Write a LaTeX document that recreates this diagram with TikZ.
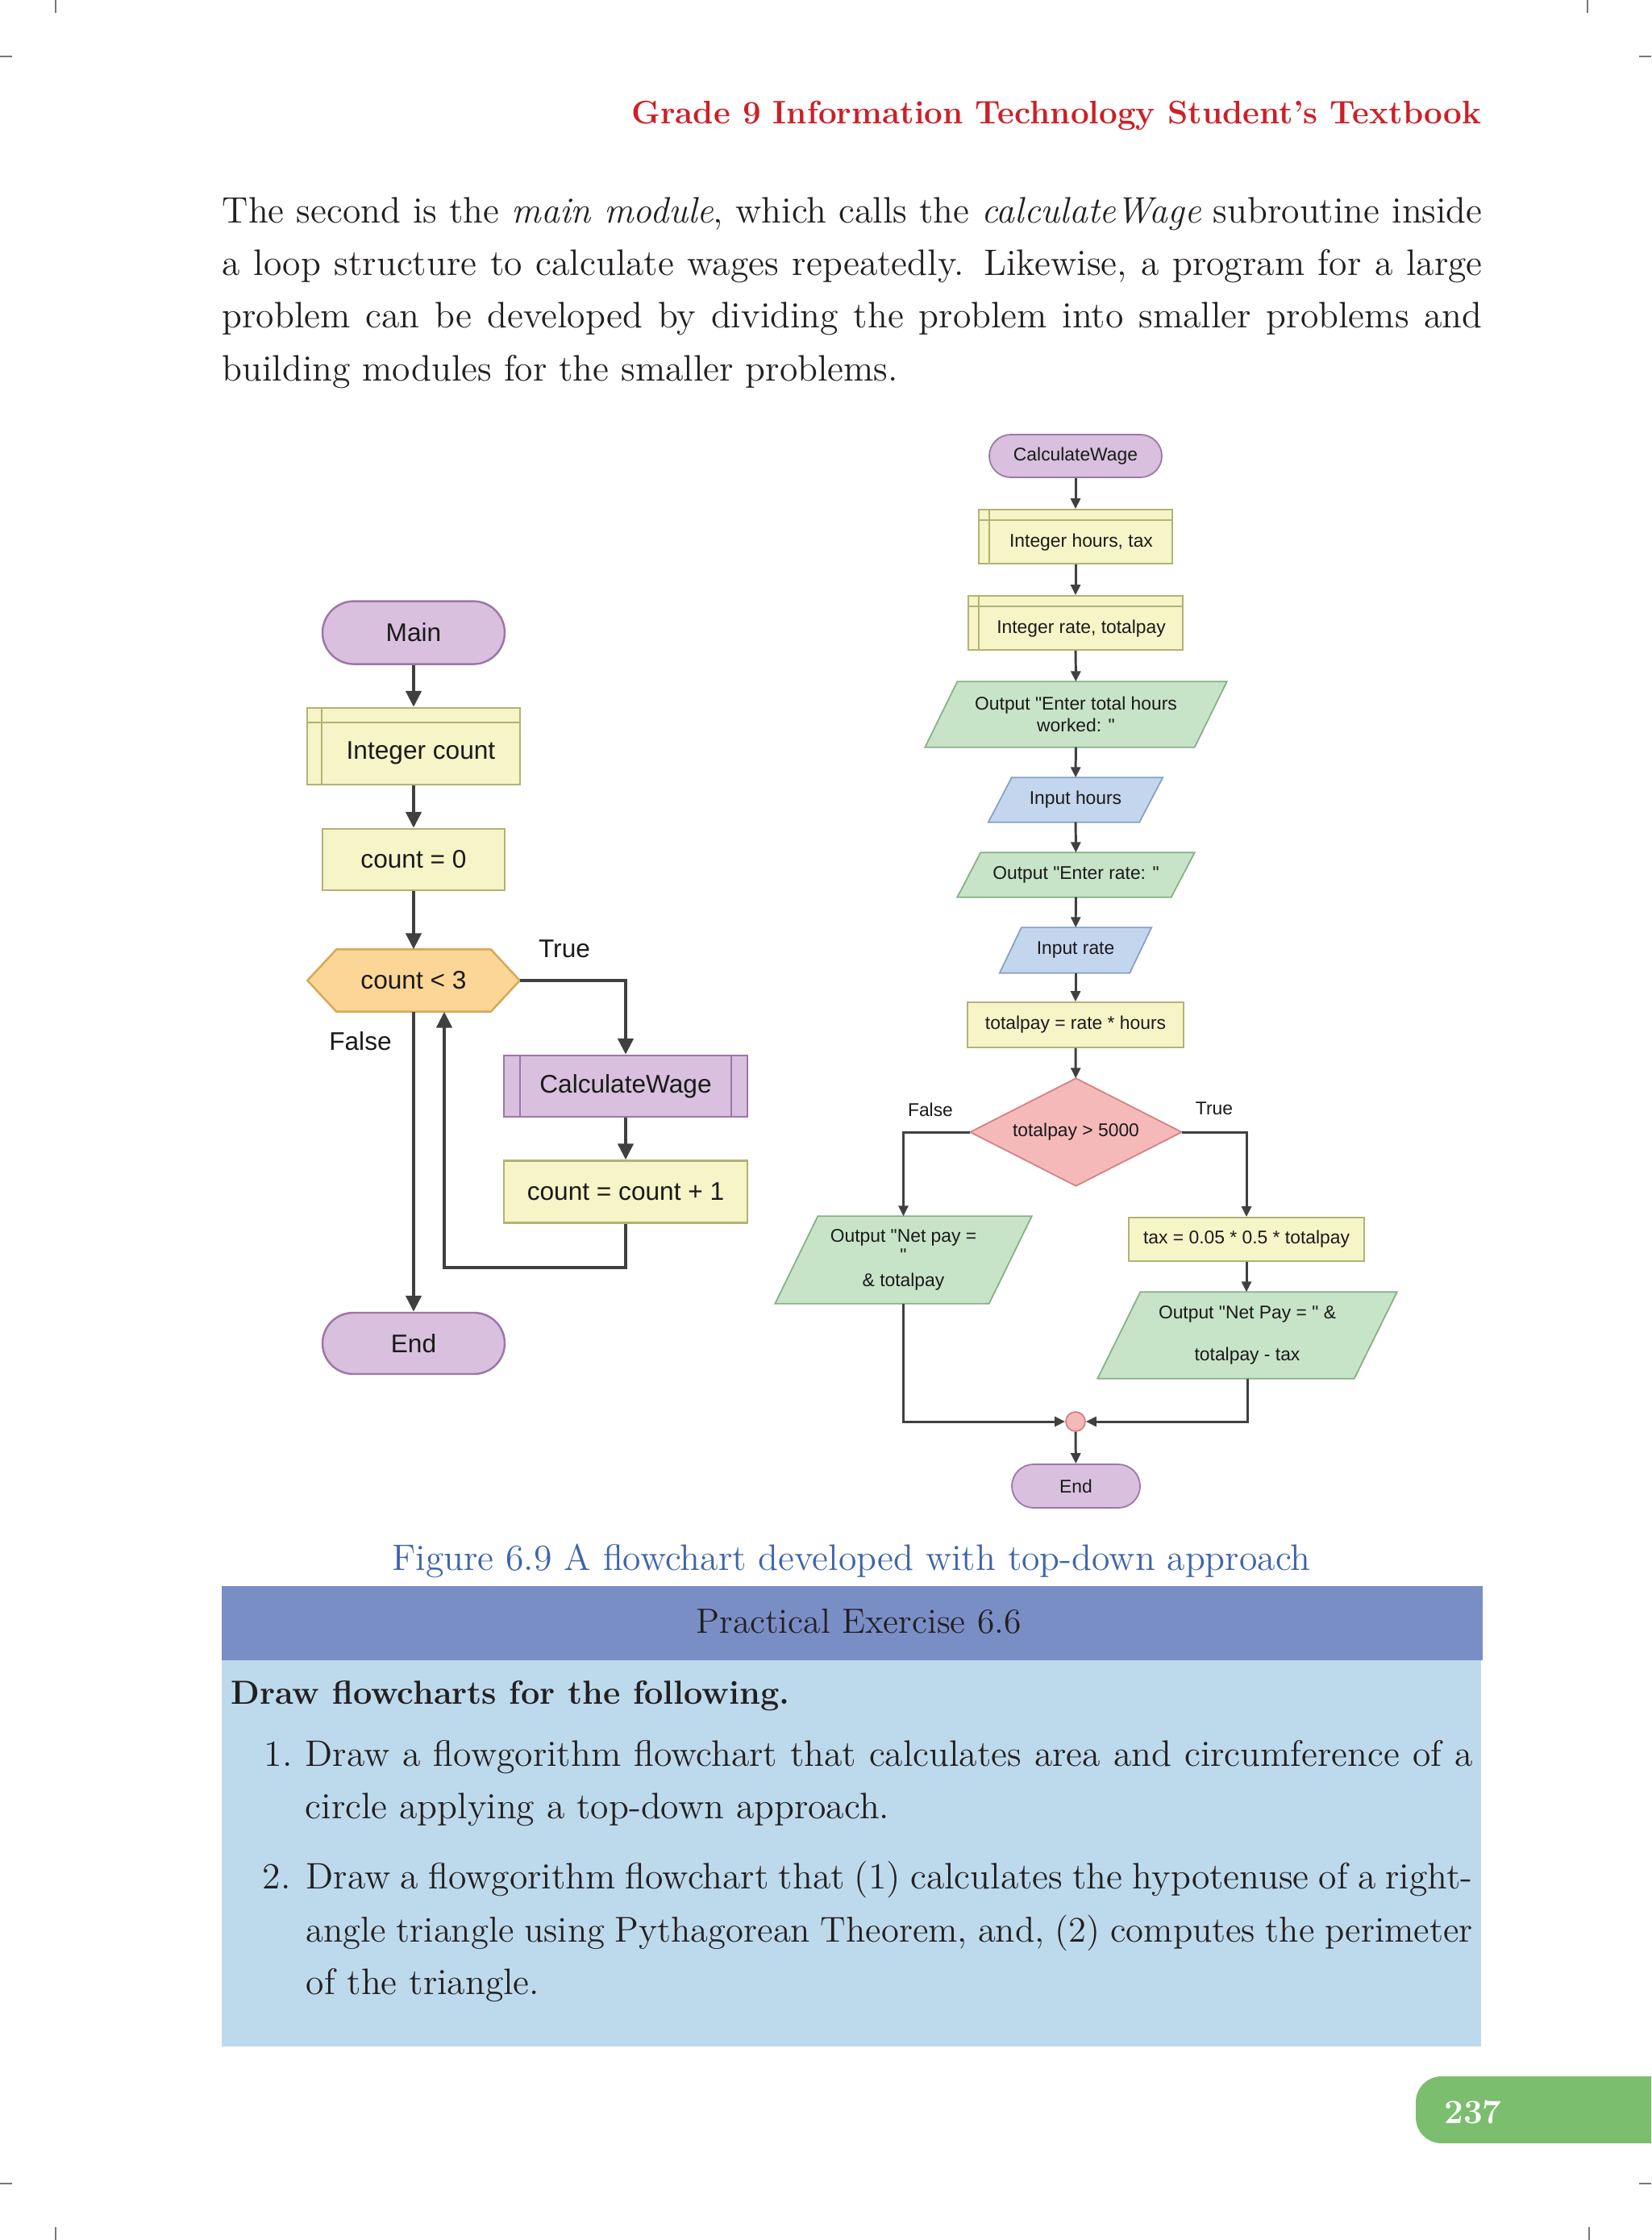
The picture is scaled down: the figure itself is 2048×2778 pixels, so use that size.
\documentclass[tikz,border=0pt]{standalone}
\usepackage{fontspec}
\newfontfamily\fc{Liberation Sans}
\usetikzlibrary{arrows.meta,calc}
\pgfdeclarelayer{bg}
\pgfsetlayers{bg,main}
\definecolor{termF}{RGB}{216,192,222}
\definecolor{termD}{RGB}{158,118,168}
\definecolor{procF}{RGB}{245,245,200}
\definecolor{procD}{RGB}{178,178,118}
\definecolor{hexF}{RGB}{251,214,150}
\definecolor{hexD}{RGB}{214,168,88}
\definecolor{outF}{RGB}{200,228,200}
\definecolor{outD}{RGB}{135,175,135}
\definecolor{inF}{RGB}{196,214,238}
\definecolor{inD}{RGB}{135,160,200}
\definecolor{decF}{RGB}{245,185,185}
\definecolor{decD}{RGB}{210,130,130}
\definecolor{lineC}{RGB}{64,64,64}
\definecolor{txt}{RGB}{26,26,26}
\definecolor{hdrRed}{RGB}{204,32,40}
\definecolor{capBlue}{RGB}{62,100,172}
\definecolor{exBar}{RGB}{122,142,198}
\definecolor{exBox}{RGB}{189,218,236}
\definecolor{badge}{RGB}{122,190,110}
\definecolor{ink}{RGB}{35,31,32}
\definecolor{cropC}{RGB}{120,120,120}
\newcommand{\jl}[2]{\makebox[#1][s]{#2}}
\tikzset{
  tL/.style={font=\fc\fontsize{9}{11}\selectfont, text=txt, inner sep=0pt},
  tR/.style={font=\fc\fontsize{6.5}{7.8}\selectfont, text=txt, inner sep=0pt},
  termL/.style={tL, draw=termD, fill=termF, line width=0.7pt, rounded corners=3.8mm, minimum width=22.6mm, minimum height=7.7mm},
  procL/.style={tL, draw=procD, fill=procF, line width=0.7pt},
  subL/.style={tL, draw=termD, fill=termF, line width=0.7pt},
  termR/.style={tR, draw=termD, fill=termF, line width=0.5pt, rounded corners=2.65mm},
  procR/.style={tR, draw=procD, fill=procF, line width=0.5pt},
  innerP/.style={draw=procD, line width=0.6pt},
  innerS/.style={draw=termD, line width=0.6pt},
  hexS/.style={draw=hexD, fill=hexF, line width=0.7pt},
  outS/.style={draw=outD, fill=outF, line width=0.5pt},
  inS/.style={draw=inD, fill=inF, line width=0.5pt},
  decS/.style={draw=decD, fill=decF, line width=0.5pt},
  arrL/.style={draw=lineC, line width=1.3pt, -{Triangle[length=2mm,width=1.9mm]}},
  arrR/.style={draw=lineC, line width=0.85pt, -{Triangle[length=1.3mm,width=1.2mm]}},
  body/.style={font=\fontsize{13}{15}\selectfont, text=ink, inner sep=0pt, anchor=base west},
  crop/.style={draw=cropC, line width=0.4pt},
}
\begin{document}
\begin{tikzpicture}[x=0.1mm,y=-0.1mm]
\begin{pgfonlayer}{bg}
\fill[white] (0,0) rectangle (2048,2778);
\end{pgfonlayer}
\useasboundingbox (0,0) rectangle (2048,2778);
% crop marks
\draw[crop] (69,0) -- (69,16);
\draw[crop] (1969,0) -- (1969,16);
\draw[crop] (0,70) -- (15,70);
\draw[crop] (2033,70) -- (2048,70);
\draw[crop] (0,2708) -- (15,2708);
\draw[crop] (2033,2708) -- (2048,2708);
\draw[crop] (69,2762) -- (69,2778);
\draw[crop] (1971,2762) -- (1971,2778);

% header
\node[anchor=base east, inner sep=0pt, text=hdrRed, font=\fontsize{11.5}{14}\selectfont\bfseries] (hdr) at (1838,154) {Grade 9 Information Technology Student’s Textbook};

% paragraph
\node[body] (p1) at (275,277) {\jl{156.3mm}{The second is the \textit{main module}, which calls the \textit{calculateWage} subroutine inside}};
\node[body] (p2) at (275,342) {\jl{156.3mm}{a loop structure to calculate wages repeatedly. Likewise, a program for a large}};
\node[body] (p3) at (275,407) {\jl{156.3mm}{problem can be developed by dividing the problem into smaller problems and}};
\node[body] (p4) at (275,473) {building modules for the smaller problems.};

% ---------------- left flowchart ----------------
\node[termL, minimum height=7.8mm, rounded corners=3.9mm] (mainT) at (513,784.6) {Main};
\node[procL, minimum width=26.4mm, minimum height=9.5mm] (intc) at (513,925.5) {};
\draw[innerP] ($(intc.north west)+(0,19)$) -- ($(intc.north east)+(0,19)$);
\draw[innerP] ($(intc.north west)+(19,0)$) -- ($(intc.south west)+(19,0)$);
\node[tL] (intcT) at (522,934) {Integer count};
\node[procL, minimum width=22.6mm, minimum height=7.6mm] (cnt0) at (513,1066) {count = 0};
\node[tL, minimum width=26.2mm, minimum height=7.6mm] (hex) at (513,1216) {count < 3};
\begin{pgfonlayer}{bg}
\filldraw[hexS] (hex.west) -- ($(hex.north west)+(36,0)$) -- ($(hex.north east)+(-36,0)$) -- (hex.east) -- ($(hex.south east)+(-36,0)$) -- ($(hex.south west)+(36,0)$) -- cycle;
\end{pgfonlayer}
\node[subL, minimum width=30.2mm, minimum height=7.6mm] (cwL) at (776,1347) {CalculateWage};
\draw[innerS] ($(cwL.north west)+(21,0)$) -- ($(cwL.south west)+(21,0)$);
\draw[innerS] ($(cwL.north east)+(-21,0)$) -- ($(cwL.south east)+(-21,0)$);
\node[procL, minimum width=30.2mm, minimum height=7.7mm] (inc) at (776,1478) {count = count + 1};
\node[termL, minimum height=7.6mm] (endL) at (513,1666) {End};
\node[tL] (trueL) at (700,1177) {True};
\node[tL] (falseL) at (447,1291) {False};

\draw[arrL] (mainT) -- (intc);
\draw[arrL] (intc) -- (cnt0);
\draw[arrL] (cnt0) -- (hex);
\draw[arrL] (hex.east) -| (cwL.north);
\draw[arrL] (cwL) -- (inc);
\coordinate (loopA) at (551,1572);
\draw[arrL] (inc.south) |- (loopA) -- (loopA |- hex.south);
\draw[arrL] (hex.south) -- (endL.north);

% ---------------- right flowchart ----------------
\node[termR, minimum width=21.4mm, minimum height=5.3mm] (cwT) at (1334,565.5) {CalculateWage};
\node[procR, minimum width=24mm, minimum height=6.7mm] (d1) at (1334,665.5) {};
\draw[innerP, line width=0.45pt] ($(d1.north west)+(0,14)$) -- ($(d1.north east)+(0,14)$);
\draw[innerP, line width=0.45pt] ($(d1.north west)+(14,0)$) -- ($(d1.south west)+(14,0)$);
\node[tR] (d1t) at (1341,672.5) {Integer hours, tax};
\node[procR, minimum width=26.6mm, minimum height=6.7mm] (d2) at (1334,772.5) {};
\draw[innerP, line width=0.45pt] ($(d2.north west)+(0,14)$) -- ($(d2.north east)+(0,14)$);
\draw[innerP, line width=0.45pt] ($(d2.north west)+(14,0)$) -- ($(d2.south west)+(14,0)$);
\node[tR] (d2t) at (1341,779.5) {Integer rate, totalpay};
\node[tR, minimum width=37.3mm, minimum height=8mm, align=center] (o1) at (1334.5,886) {Output "Enter total hours\\worked: "};
\node[tR, minimum width=21.5mm, minimum height=5.4mm] (i1) at (1334,992) {Input hours};
\node[tR, minimum width=29.3mm, minimum height=5.4mm] (o2) at (1334.5,1085) {Output "Enter rate: "};
\node[tR, minimum width=18.7mm, minimum height=5.5mm] (i2) at (1334,1178.5) {Input rate};
\node[procR, minimum width=26.8mm, minimum height=5.6mm] (tp) at (1334,1271) {totalpay = rate * hours};
\node[tR, minimum width=26.1mm, minimum height=13.2mm] (dia) at (1334.5,1404) {totalpay > 5000};
\node[tR, minimum width=31.7mm, minimum height=10.7mm, align=center] (on1) at (1120.5,1562.5) {Output "Net pay =\\[-1pt]"\\[1pt]\& totalpay};
\node[procR, minimum width=29.2mm, minimum height=5.4mm] (tax) at (1546,1537) {tax = 0.05 * 0.5 * totalpay};
\node[tR, minimum width=37mm, minimum height=10.6mm, align=center] (on2) at (1547,1656) {Output "Net Pay = " \&\\[7pt]totalpay - tax};
\node[circle, draw=decD, fill=decF, minimum size=2.4mm, inner sep=0pt, line width=0.5pt] (join) at (1334,1763) {};
\node[termR, minimum width=15.9mm, minimum height=5.4mm, rounded corners=2.7mm] (endR) at (1334.5,1843) {End};
\node[tR] (lblF) at (1154,1376) {False};
\node[tR] (lblT) at (1506,1375) {True};
\begin{pgfonlayer}{bg}
\filldraw[outS] ($(o1.north west)+(40,0)$) -- (o1.north east) -- ($(o1.south east)+(-40,0)$) -- (o1.south west) -- cycle;
\filldraw[inS] ($(i1.north west)+(29,0)$) -- (i1.north east) -- ($(i1.south east)+(-29,0)$) -- (i1.south west) -- cycle;
\filldraw[outS] ($(o2.north west)+(29,0)$) -- (o2.north east) -- ($(o2.south east)+(-29,0)$) -- (o2.south west) -- cycle;
\filldraw[inS] ($(i2.north west)+(27,0)$) -- (i2.north east) -- ($(i2.south east)+(-27,0)$) -- (i2.south west) -- cycle;
\filldraw[decS] (dia.north) -- (dia.east) -- (dia.south) -- (dia.west) -- cycle;
\filldraw[outS] ($(on1.north west)+(53,0)$) -- (on1.north east) -- ($(on1.south east)+(-53,0)$) -- (on1.south west) -- cycle;
\filldraw[outS] ($(on2.north west)+(53,0)$) -- (on2.north east) -- ($(on2.south east)+(-53,0)$) -- (on2.south west) -- cycle;
\end{pgfonlayer}

\draw[arrR] (cwT) -- (d1);
\draw[arrR] (d1) -- (d2);
\draw[arrR] (d2) -- (o1);
\draw[arrR] (o1) -- (i1);
\draw[arrR] (i1) -- (o2);
\draw[arrR] (o2) -- (i2);
\draw[arrR] (i2) -- (tp);
\draw[arrR] (tp) -- (dia);
\draw[arrR] (dia.west) -| (on1.north);
\draw[arrR] (dia.east) -| (tax.north);
\draw[arrR] (tax.south) -- (tax.south |- on2.north);
\draw[arrR] (on1.south) |- (join.west);
\draw[arrR] (on2.south) |- (join.east);
\draw[arrR] (join) -- (endR);

% caption
\node[anchor=base, inner sep=0pt, text=capBlue, font=\fontsize{13}{15}\selectfont] (cap) at (1056,1947) {Figure 6.9 A flowchart developed with top-down approach};

% exercise box
\fill[exBar] (275,1967) rectangle (1839,2059);
\fill[exBox] (275,2059) rectangle (1837,2538);
\node[anchor=base, inner sep=0pt, text=ink, font=\fontsize{12.4}{15}\selectfont] (exT) at (1065,2025) {Practical Exercise 6.6};
\node[body, font=\fontsize{11.8}{14}\selectfont\bfseries] (exH) at (286,2113) {Draw flowcharts for the following.};
\node[body] (n1) at (327,2190) {1.};
\node[body] (e1a) at (378,2190) {\jl{144.8mm}{Draw a flowgorithm flowchart that calculates area and circumference of a}};
\node[body] (e1b) at (378,2255) {circle applying a top-down approach.};
\node[body] (n2) at (325,2342) {2.};
\node[body] (e2a) at (379,2342) {\jl{144.7mm}{Draw a flowgorithm flowchart that (1) calculates the hypotenuse of a right-}};
\node[body, font=\fontsize{12.7}{15}\selectfont] (e2b) at (379,2408) {\jl{144.7mm}{angle triangle using Pythagorean Theorem, and, (2) computes the perimeter}};
\node[body] (e2c) at (379,2473) {of the triangle.};

% page badge
\begin{scope}
\clip (0,0) rectangle (2048,2778);
\fill[badge, rounded corners=3.2mm] (1756,2575) rectangle (2120,2658);
\end{scope}
\node[anchor=base, inner sep=0pt, text=white, font=\fontsize{12}{14}\selectfont\bfseries] (pg) at (1827,2633) {237};
\end{tikzpicture}
\end{document}
